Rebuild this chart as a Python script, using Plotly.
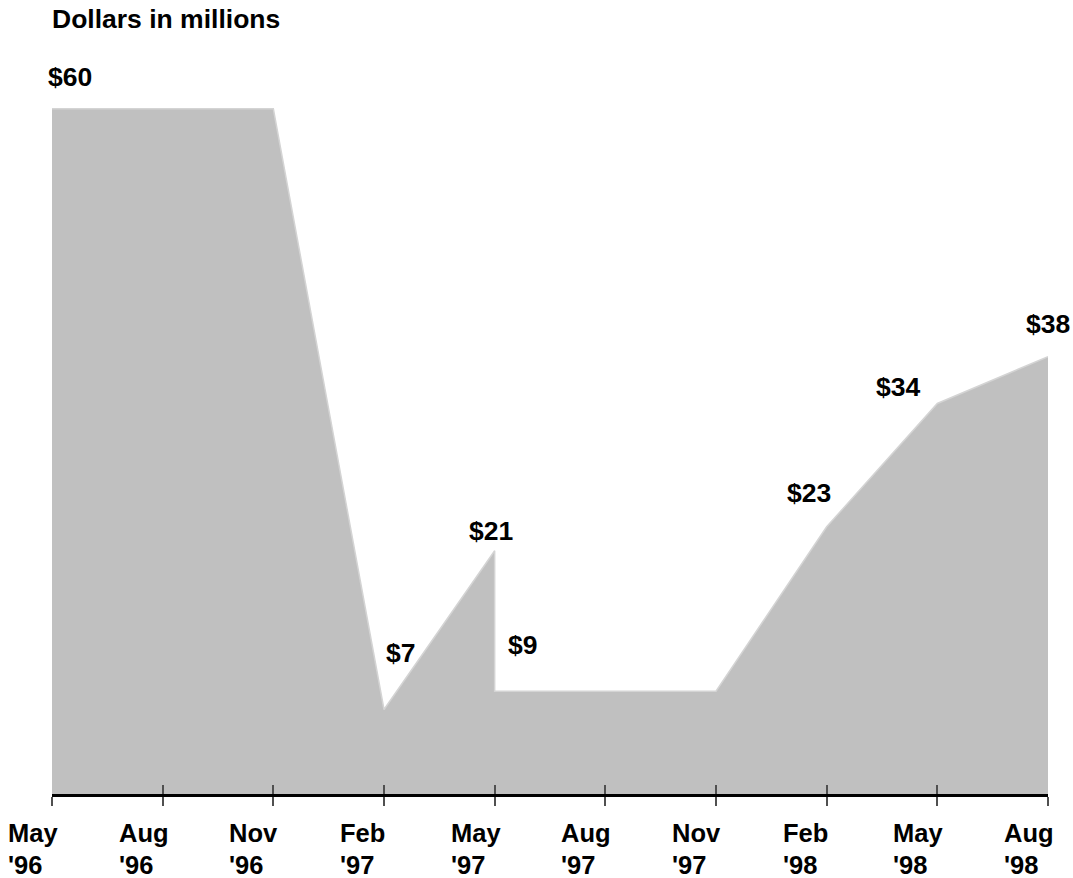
import plotly.graph_objects as go

# ---- data ----
tick_months = ["May", "Aug", "Nov", "Feb", "May", "Aug", "Nov", "Feb", "May", "Aug"]
tick_years = ["'96", "'96", "'96", "'97", "'97", "'97", "'97", "'98", "'98", "'98"]
tick_pos = list(range(len(tick_months)))

# quarter index of each point (May '97 appears twice: value drops vertically)
area_x = [0, 1, 2, 3, 4, 4, 5, 6, 7, 8, 9]
area_y = [60, 60, 60, 7.4, 21.3, 9.0, 9.0, 9.0, 23.4, 34.2, 38.3]

label_text = ["$60", "$7", "$21", "$9", "$23", "$34", "$38"]
label_x = [0, 3, 4, 4, 7, 8, 9]
label_y = [60, 7.4, 21.3, 9.0, 23.4, 34.2, 38.3]
# pixel offsets of the labels from their points (style only)
label_dx = [18, 16, -4, 28, -18, -39, 0]
label_dy = [32, 57, 20, 46, 34, 16, 33]

FONT = "Liberation Sans, Arial, sans-serif"
FS_LABEL = 26.5
FS_TICK = 25.5

fig = go.Figure()
fig.add_trace(go.Scatter(
    x=area_x, y=area_y, mode="lines", fill="tozeroy",
    fillcolor="#c0c0c0", line=dict(color="#d4d4d4", width=1.5),
    hoverinfo="skip", showlegend=False))
# invisible trace to host the inside-tick overlay axis
fig.add_trace(go.Scatter(x=[0, 9], y=[0, 0], xaxis="x2", mode="lines",
                         line=dict(width=0), hoverinfo="skip", showlegend=False))

annotations = []
for t, x, y, dx, dy in zip(label_text, label_x, label_y, label_dx, label_dy):
    annotations.append(dict(x=x, y=y, xref="x", yref="y", text=t, showarrow=False,
                            xanchor="center", yanchor="middle", xshift=dx, yshift=dy,
                            font=dict(family=FONT, size=FS_LABEL, color="black", weight="bold")))
for x, m, yr in zip(tick_pos, tick_months, tick_years):
    for txt, dy in ((m, -39), (yr, -71)):
        annotations.append(dict(x=x, y=0, xref="x", yref="y", text=txt, showarrow=False,
                                xanchor="left", yanchor="middle", align="left",
                                xshift=-46, yshift=dy,
                                font=dict(family=FONT, size=FS_TICK, color="black",
                                          weight="bold")))
annotations.append(dict(x=0, y=1, xref="paper", yref="paper", text="Dollars in millions",
                        showarrow=False, xanchor="left", yanchor="middle",
                        xshift=-2, yshift=67,
                        font=dict(family=FONT, size=FS_LABEL, color="black", weight="bold")))

fig.update_layout(
    width=1073, height=878,
    margin=dict(l=52, r=25, t=86, b=84),
    paper_bgcolor="white", plot_bgcolor="white",
    showlegend=False,
    xaxis=dict(range=[0, 9], tickmode="array", tickvals=tick_pos, showticklabels=False,
               ticks="outside", ticklen=9, tickwidth=2, tickcolor="#505050",
               showgrid=False, zeroline=False, showline=True, linecolor="black",
               linewidth=3),
    xaxis2=dict(range=[0, 9], overlaying="x", anchor="y", side="bottom",
                tickmode="array", tickvals=tick_pos, showticklabels=False,
                ticks="inside", ticklen=9, tickwidth=2, tickcolor="#505050",
                showgrid=False, zeroline=False, showline=False),
    yaxis=dict(range=[0, 62], visible=False, showgrid=False, zeroline=False),
    annotations=annotations,
)

# remove the default 8px page margin so the figure fills the window exactly
fig.write_html("out.html", config={"displayModeBar": False},
               post_script="document.body.style.margin='0';document.body.style.overflow='hidden';")
